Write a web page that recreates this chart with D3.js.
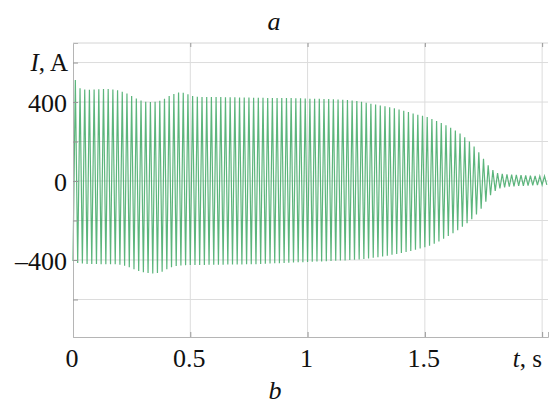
<!DOCTYPE html>
<html>
<head>
<meta charset="utf-8">
<script src="https://cdn.jsdelivr.net/npm/d3@7/dist/d3.min.js"></script>
<style>
  html, body { margin: 0; padding: 0; background: #fff; }
  svg text { font-family: "Liberation Serif", "DejaVu Serif", serif; fill: #111; }
</style>
</head>
<body>
<svg id="chart" width="553" height="408"></svg>
<script>
// ---- data ----
const period = 0.02;           // s, one cycle of the 50 Hz current
// peak (maximum) of each cycle, A, at t = 0.01 + 0.02*k
const upperPeaks = [511,470,464,462,463,465,466,466,464,460,
  452,443,430,418,408,402,400,401,406,416,
  430,441,448,447,439,431,427,426,426,425,
  425,425,424,424,424,423,423,423,422,422,
  422,421,421,421,420,420,420,419,419,418,
  417,417,416,415,415,414,413,412,410,408,
  405,401,396,391,387,383,379,374,368,362,
  356,349,342,336,330,324,314,304,294,283,
  270,256,241,222,200,175,146,112,80,55,
  40,36,34,32,31,30,28,27,26,25,25];
// trough (minimum) of each cycle, A, at t = 0.02*k
const lowerPeaks = [-405,-415,-418,-420,-420,-420,-421,-421,-421,-422,
  -424,-429,-437,-447,-456,-462,-466,-468,-466,-459,
  -447,-437,-431,-428,-426,-425,-425,-425,-425,-424,
  -424,-424,-424,-423,-423,-423,-423,-422,-422,-421,
  -420,-419,-418,-417,-416,-415,-414,-413,-412,-411,
  -410,-409,-408,-407,-406,-405,-404,-403,-402,-400,
  -399,-397,-395,-392,-389,-386,-382,-378,-373,-369,
  -364,-359,-354,-348,-342,-336,-328,-318,-306,-292,
  -278,-264,-249,-232,-214,-194,-170,-140,-105,-72,
  -50,-38,-32,-29,-27,-25,-24,-23,-22,-21,-20,-20];
const xTicks = [0, 0.5, 1, 1.5];
const xGrid = [0.5, 1, 1.5, 2];
const yTickLabels = [400, 0, -400];
const yGrid = [-600, -400, -200, 0, 200, 400, 600];

// ---- build the waveform points: trough, peak, trough, ... ----
const points = [];
for (let k = 0; k < lowerPeaks.length; k++) {
  points.push([k * period, lowerPeaks[k]]);
  if (k < upperPeaks.length) points.push([k * period + period / 2, upperPeaks[k]]);
}

const svg = d3.select("#chart");
const L = 73, R = 548, T = 43, B = 337;
const x = d3.scaleLinear().domain([0, 2.025]).range([L, R]);
const y = d3.scaleLinear().domain([-790, 699]).range([B, T]);

// grid
const g = svg.append("g");
g.selectAll("line.hg").data(yGrid).join("line")
  .attr("x1", L).attr("x2", R)
  .attr("y1", d => y(d)).attr("y2", d => y(d))
  .attr("stroke", "#dcdcdc").attr("stroke-width", 1);
g.selectAll("line.vg").data(xGrid).join("line")
  .attr("x1", d => x(d)).attr("x2", d => x(d))
  .attr("y1", T).attr("y2", B)
  .attr("stroke", "#dcdcdc").attr("stroke-width", 1);
// top border
g.append("line").attr("x1", L).attr("x2", R).attr("y1", T).attr("y2", T)
  .attr("stroke", "#d4d4d4");

// waveform
const line = d3.line().x(d => x(d[0])).y(d => y(d[1]));
svg.append("path").datum(points)
  .attr("d", line)
  .attr("fill", "none")
  .attr("stroke", "#40a865")
  .attr("stroke-width", 1.2)
  .attr("stroke-opacity", 0.85);

// axes
const yAxis = d3.axisLeft(y).tickValues(yGrid).tickSize(-5).tickFormat("");
const ya = svg.append("g").attr("transform", `translate(${L},0)`).call(yAxis);
const xAxis = d3.axisBottom(x).tickValues(xGrid).tickSize(-5).tickFormat("");
const xa = svg.append("g").attr("transform", `translate(0,${B})`).call(xAxis);
[ya, xa].forEach(a => {
  a.select(".domain").attr("stroke", "#b5b5b5");
  a.selectAll(".tick line").attr("stroke", "#999");
});
// top tick marks
const xTop = d3.axisTop(x).tickValues(xGrid).tickSize(-4).tickFormat("");
const xt = svg.append("g").attr("transform", `translate(0,${T})`).call(xTop);
xt.select(".domain").remove();
xt.selectAll(".tick line").attr("stroke", "#999");

// tick labels
svg.selectAll("text.xt").data(xTicks).join("text")
  .attr("x", d => x(d) - 1).attr("y", 367)
  .attr("text-anchor", "middle").attr("font-size", 26)
  .text(d => d === 0 ? "0" : String(d));
svg.selectAll("text.yt").data(yTickLabels).join("text")
  .attr("x", 67).attr("y", d => y(d) + 10)
  .attr("text-anchor", "end").attr("font-size", 26)
  .text(d => d < 0 ? "\u2013" + Math.abs(d) : String(d));

// axis titles
const yt = svg.append("text").attr("x", 68).attr("y", y(600) + 8)
  .attr("text-anchor", "end").attr("font-size", 25);
yt.append("tspan").attr("font-style", "italic").text("I");
yt.append("tspan").text(", A");
const xtl = svg.append("text").attr("x", 542).attr("y", 367)
  .attr("text-anchor", "end").attr("font-size", 25);
xtl.append("tspan").attr("font-style", "italic").text("t");
xtl.append("tspan").text(", s");

// panel letters
svg.append("text").attr("x", 274).attr("y", 30).attr("text-anchor", "middle")
  .attr("font-size", 26).attr("font-style", "italic").text("a");
svg.append("text").attr("x", 275).attr("y", 399).attr("text-anchor", "middle")
  .attr("font-size", 26).attr("font-style", "italic").text("b");
</script>
</body>
</html>
